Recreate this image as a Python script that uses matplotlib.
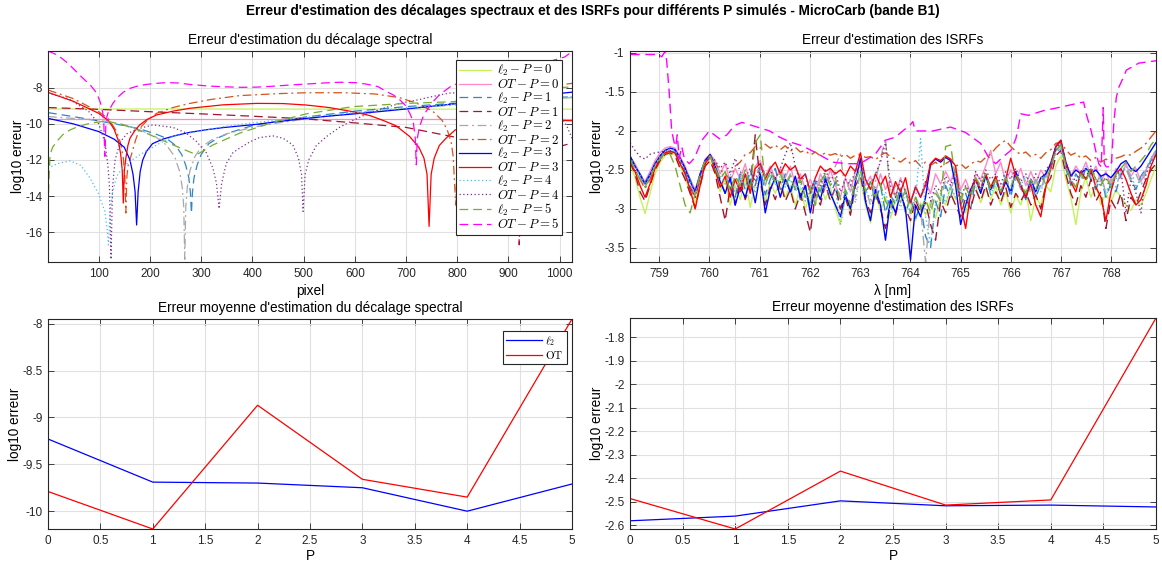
import numpy as np
import matplotlib
matplotlib.use("Agg")
import matplotlib.pyplot as plt

plt.rcParams["font.family"] = ["Liberation Sans", "DejaVu Sans"]
plt.rcParams["mathtext.fontset"] = "cm"
plt.rcParams["axes.unicode_minus"] = False

# ---------------------------------------------------------------- data
P_values = [0, 1, 2, 3, 4, 5]
series_labels = [r"$\ell_2 - P = 0$", r"$OT - P = 0$", r"$\ell_2 - P = 1$", r"$OT - P = 1$",
                 r"$\ell_2 - P = 2$", r"$OT - P = 2$", r"$\ell_2 - P = 3$", r"$OT - P = 3$",
                 r"$\ell_2 - P = 4$", r"$OT - P = 4$", r"$\ell_2 - P = 5$", r"$OT - P = 5$"]

# log10 error of the spectral shift estimate along the detector
px_l2_0 = [1, 300, 700, 1024]
shift_l2_0 = [-9.18, -9.18, -9.19, -9.19]
px_ot_0 = [1, 300, 700, 1024]
shift_ot_0 = [-9.74, -9.74, -9.74, -9.74]
px_l2_1 = [1, 50, 100, 150, 180, 210, 232, 250, 262, 270, 276, 279, 281, 283, 286, 292,
           300, 315, 335, 360, 400, 450, 505, 600, 700, 800, 900, 1024]
shift_l2_1 = [-9.38, -9.6, -9.84, -10.1, -10.28, -10.55, -10.8, -11.2, -11.7, -12.3, -13.0,
              -13.8, -14.95, -13.8, -13.0, -12.3, -11.7, -11.1, -10.75, -10.45, -10.1, -9.85,
              -9.62, -9.3, -9.05, -8.85, -8.7, -8.5]
px_ot_1 = [1, 100, 200, 300, 400, 500, 600, 700, 780, 850, 890, 905, 913, 918, 921, 924,
           930, 945, 970, 1000, 1024]
shift_ot_1 = [-9.1, -9.2, -9.33, -9.45, -9.58, -9.72, -9.95, -10.2, -10.65, -11.05, -11.6,
              -12.1, -12.8, -13.7, -16.7, -13.7, -12.8, -12.0, -11.5, -11.25, -11.07]
px_l2_2 = [1, 50, 100, 150, 180, 210, 232, 248, 258, 263, 266, 268, 270, 273, 278, 288,
           300, 320, 350, 400, 450, 500, 600, 700, 800, 900, 1024]
shift_l2_2 = [-9.6, -9.7, -9.8, -10.05, -10.34, -10.7, -11.17, -11.8, -12.64, -13.5, -14.6,
              -17.5, -14.6, -13.5, -12.6, -11.8, -11.3, -10.9, -10.55, -10.2, -9.95, -9.75,
              -9.4, -9.15, -8.95, -8.75, -8.55]
px_ot_2 = [1, 50, 100, 120, 135, 143, 148, 151, 153, 155, 158, 164, 172, 180, 195, 213, 245,
           278, 320, 375, 450, 505, 580, 640, 687, 720, 752, 770, 780, 788, 792, 797, 801,
           806, 815, 835, 870, 930, 1000, 1024]
shift_ot_2 = [-8.13, -8.6, -9.33, -9.75, -10.43, -11.1, -11.9, -12.9, -14.94, -12.9, -12.2,
              -11.7, -10.9, -10.25, -9.8, -9.42, -9.1, -8.87, -8.65, -8.44, -8.33, -8.28,
              -8.28, -8.35, -8.55, -8.85, -9.3, -9.8, -10.3, -11.0, -11.8, -14.5, -11.5,
              -10.6, -9.9, -9.2, -8.6, -8.15, -7.85, -7.76]
px_l2_3 = [1, 50, 100, 130, 150, 161, 167, 171, 174, 177, 181, 186, 193, 205, 226, 250, 278,
           310, 343, 408, 450, 505, 550, 600, 650, 700, 750, 800, 900, 1024]
shift_l2_3 = [-9.7, -10.0, -10.43, -10.85, -11.3, -12.0, -12.8, -13.75, -15.6, -13.75,
              -12.64, -12.0, -11.54, -11.1, -10.84, -10.65, -10.47, -10.33, -10.21, -10.03,
              -9.88, -9.7, -9.57, -9.45, -9.32, -9.18, -9.03, -8.88, -8.6, -8.25]
px_ot_3 = [1, 50, 100, 120, 130, 138, 143, 146, 148, 150, 153, 157, 161, 170, 180, 195, 213,
           245, 278, 343, 408, 460, 505, 550, 596, 630, 654, 680, 707, 725, 735, 741, 745,
           749, 755, 765, 778, 796, 830, 900, 960, 1024]
shift_ot_3 = [-8.26, -8.75, -9.42, -9.85, -10.3, -10.9, -11.7, -12.6, -14.39, -12.6, -11.9,
              -11.2, -10.8, -10.4, -10.06, -9.75, -9.51, -9.3, -9.14, -8.95, -8.87, -8.88,
              -8.96, -9.1, -9.33, -9.55, -9.8, -10.1, -10.7, -11.3, -11.9, -12.8, -15.68,
              -12.8, -11.9, -11.2, -10.8, -10.34, -10.0, -9.8, -9.78, -9.83]
px_l2_4 = [1, 20, 44, 65, 83, 100, 112, 116, 119, 122, 127, 135, 150, 165, 180, 213, 245,
           297, 349, 400, 450, 500, 600, 700, 800, 900, 1024]
shift_l2_4 = [-12.46, -12.2, -12.05, -12.3, -13.0, -13.9, -14.85, -15.7, -16.7, -15.0,
              -13.8, -12.9, -12.3, -12.0, -11.72, -11.17, -10.7, -10.4, -10.14, -9.95, -9.8,
              -9.65, -9.38, -9.13, -8.9, -8.7, -8.5]
px_ot_4 = [1, 40, 80, 100, 112, 118, 121, 124, 127, 132, 142, 155, 180, 206, 245, 270, 291,
           310, 323, 330, 335, 340, 349, 362, 375, 395, 414, 440, 460, 479, 490, 496, 499,
           503, 510, 525, 545, 570, 590, 620, 654, 690, 719, 750, 784, 830, 880, 940, 980,
           1005, 1015, 1024]
shift_ot_4 = [-8.3, -8.6, -9.3, -10.0, -11.0, -12.3, -13.5, -17.5, -13.5, -12.0, -11.0,
              -10.55, -10.25, -10.06, -10.2, -10.5, -10.98, -11.6, -12.46, -13.3, -14.7,
              -13.3, -12.2, -11.6, -11.35, -11.0, -10.76, -10.67, -10.8, -11.17, -11.9,
              -12.8, -14.85, -12.8, -12.0, -11.2, -10.7, -10.2, -9.9, -9.5, -9.15, -8.85,
              -8.7, -8.5, -8.3, -8.25, -8.4, -8.8, -9.3, -9.7, -10.2, -10.8]
px_l2_5 = [1, 3, 5, 10, 18, 30, 44, 60, 83, 115, 148, 193, 245, 284, 295, 323, 375, 440,
           505, 596, 700, 791, 850, 920, 980, 1024]
shift_l2_5 = [-14.6, -13.0, -11.7, -11.3, -10.98, -10.6, -10.34, -10.15, -9.97, -9.84,
              -10.06, -10.52, -11.17, -11.63, -11.65, -11.17, -10.52, -9.92, -9.45, -9.05,
              -8.87, -8.78, -8.55, -8.3, -8.05, -7.95]
px_ot_5 = [1, 20, 40, 66, 85, 96, 103, 108, 110, 112, 114, 116, 119, 127, 135, 148, 161,
           177, 193, 213, 232, 255, 278, 310, 343, 380, 408, 440, 475, 505, 540, 570, 600,
           622, 645, 661, 675, 687, 698, 707, 714, 718, 720, 722, 726, 732, 739, 752, 765,
           791, 850, 920, 980, 1010, 1024]
shift_ot_5 = [-5.97, -6.2, -6.65, -7.39, -7.9, -8.3, -8.8, -9.4, -10.0, -11.8, -10.0, -9.6,
              -9.33, -8.9, -8.59, -8.25, -8.04, -7.9, -7.82, -7.76, -7.72, -7.74, -7.82,
              -7.9, -7.95, -7.98, -7.97, -7.92, -7.85, -7.8, -7.74, -7.7, -7.72, -7.8,
              -7.94, -8.2, -8.4, -8.65, -8.96, -9.4, -9.87, -10.8, -12.27, -10.8, -10.2,
              -9.7, -9.32, -8.8, -8.4, -7.85, -7.5, -7.0, -6.55, -6.3, -6.0]

shift_px = [px_l2_0, px_ot_0, px_l2_1, px_ot_1, px_l2_2, px_ot_2,
            px_l2_3, px_ot_3, px_l2_4, px_ot_4, px_l2_5, px_ot_5]
shift_err = [shift_l2_0, shift_ot_0, shift_l2_1, shift_ot_1, shift_l2_2, shift_ot_2,
             shift_l2_3, shift_ot_3, shift_l2_4, shift_ot_4, shift_l2_5, shift_ot_5]

# log10 error of the ISRF estimate versus wavelength (common ~0.1 nm sampling)
lam_nm = np.linspace(758.42, 768.89, 106)
isrf_l2_0 = [-2.42, -2.60, -2.85, -3.06, -2.80, -2.55, -2.40, -2.32, -2.28, -2.30,
             -2.45, -2.60, -2.80, -2.92, -2.65, -2.45, -2.40, -2.50, -2.78, -2.62,
             -2.95, -2.70, -2.88, -2.62, -2.98, -2.68, -2.55, -2.90, -2.66, -2.80,
             -2.62, -2.85, -2.70, -2.95, -2.72, -3.00, -2.80, -2.95, -2.70, -2.88,
             -2.72, -3.00, -3.20, -2.85, -3.05, -2.70, -2.62, -2.95, -3.18, -2.80,
             -3.02, -2.85, -3.12, -2.90, -2.78, -3.05, -2.88, -3.15, -2.92, -3.08,
             -2.90, -3.12, -2.85, -2.95, -2.72, -2.88, -2.78, -3.05, -2.80, -2.70,
             -2.92, -2.75, -2.88, -2.70, -2.95, -2.78, -3.05, -2.82, -2.95, -2.75,
             -3.15, -2.85, -2.95, -2.70, -2.78, -2.45, -2.32, -2.62, -2.85, -3.20,
             -2.78, -2.60, -2.85, -2.70, -2.95, -2.80, -2.92, -2.75, -2.85, -2.95,
             -3.02, -2.88, -2.95, -2.80, -2.62, -2.45]
isrf_ot_0 = [-2.33, -2.42, -2.55, -2.65, -2.52, -2.38, -2.28, -2.22, -2.20, -2.22,
             -2.33, -2.45, -2.62, -2.75, -2.55, -2.36, -2.30, -2.38, -2.55, -2.42,
             -2.65, -2.48, -2.62, -2.42, -2.70, -2.45, -2.38, -2.58, -2.45, -2.62,
             -2.48, -2.60, -2.45, -2.68, -2.55, -2.75, -2.62, -2.80, -2.55, -2.68,
             -2.50, -2.70, -2.85, -2.60, -2.78, -2.52, -2.45, -2.70, -2.58, -2.80,
             -2.55, -2.75, -2.62, -2.85, -2.60, -2.78, -2.92, -2.70, -2.85, -2.65,
             -2.80, -2.55, -2.68, -2.52, -2.65, -2.48, -2.75, -2.62, -2.80, -2.55,
             -2.62, -2.45, -2.25, -2.55, -2.40, -2.65, -2.50, -2.62, -2.48, -2.70,
             -2.52, -2.68, -2.50, -2.60, -2.40, -2.20, -2.15, -2.42, -2.58, -2.45,
             -2.55, -2.40, -2.58, -2.45, -2.65, -2.52, -2.70, -2.48, -2.60, -2.42,
             -2.58, -2.48, -2.65, -2.50, -2.38, -2.28]
isrf_l2_1 = [-2.32, -2.45, -2.55, -2.66, -2.55, -2.42, -2.32, -2.25, -2.22, -2.25,
             -2.35, -2.48, -2.62, -2.78, -2.58, -2.38, -2.30, -2.48, -2.62, -2.80,
             -2.60, -2.85, -2.55, -2.75, -2.50, -2.70, -2.45, -2.82, -2.62, -2.48,
             -2.75, -2.55, -2.80, -2.62, -2.88, -2.70, -2.98, -2.65, -2.78, -2.58,
             -2.82, -2.65, -3.00, -2.78, -2.95, -2.60, -2.48, -2.82, -2.65, -2.90,
             -2.70, -3.05, -2.82, -2.95, -2.72, -3.05, -2.85, -3.12, -2.95, -3.35,
             -3.50, -2.90, -3.10, -2.70, -2.85, -2.60, -2.95, -2.80, -3.00, -2.62,
             -2.78, -2.55, -2.82, -2.62, -2.78, -2.60, -2.85, -2.55, -2.72, -2.88,
             -2.62, -2.85, -2.68, -2.55, -2.42, -2.25, -2.18, -2.48, -2.70, -2.55,
             -2.65, -2.48, -2.62, -2.75, -2.58, -2.85, -2.68, -2.78, -2.55, -2.48,
             -2.62, -2.75, -2.58, -2.48, -2.38, -2.25]
isrf_ot_1 = [-2.40, -2.55, -2.78, -2.90, -2.70, -2.50, -2.38, -2.30, -2.28, -2.32,
             -2.48, -2.62, -2.80, -2.98, -2.70, -2.45, -2.38, -2.55, -2.85, -3.15,
             -2.72, -2.95, -2.62, -2.88, -2.70, -2.05, -2.65, -2.95, -2.72, -2.88,
             -2.65, -2.90, -2.75, -3.00, -2.80, -3.05, -3.30, -2.80, -2.95, -2.68,
             -2.90, -2.72, -3.00, -2.85, -3.08, -2.70, -2.58, -2.88, -3.05, -2.78,
             -3.00, -3.25, -2.90, -3.08, -2.80, -3.00, -3.15, -2.88, -3.05, -2.92,
             -3.20, -3.40, -2.90, -3.05, -2.80, -2.95, -3.10, -2.85, -3.00, -2.75,
             -2.90, -2.70, -2.95, -2.78, -2.92, -2.72, -2.98, -2.80, -2.90, -2.78,
             -2.95, -2.82, -3.00, -2.70, -2.60, -2.32, -2.25, -2.55, -2.80, -2.95,
             -2.70, -2.85, -2.62, -2.90, -2.78, -3.25, -2.88, -3.00, -2.80, -3.15,
             -2.85, -2.95, -2.78, -2.62, -2.50, -2.42]
isrf_l2_2 = [-2.34, -2.46, -2.58, -2.70, -2.58, -2.44, -2.34, -2.27, -2.24, -2.26,
             -2.38, -2.52, -2.70, -2.82, -2.60, -2.42, -2.35, -2.45, -2.60, -2.52,
             -2.75, -2.58, -2.68, -2.50, -2.78, -2.55, -2.45, -2.70, -2.52, -2.62,
             -2.50, -2.68, -2.55, -2.72, -2.60, -2.85, -2.70, -2.92, -2.62, -2.75,
             -2.58, -2.45, -2.30, -2.80, -2.62, -2.85, -2.50, -2.72, -2.95, -2.65,
             -2.35, -2.10, -2.85, -2.70, -2.92, -2.75, -3.05, -2.85, -3.00, -3.68,
             -2.95, -2.75, -2.88, -2.62, -2.75, -2.58, -2.90, -2.72, -2.85, -2.60,
             -2.72, -2.55, -2.78, -2.62, -2.80, -2.65, -2.72, -2.58, -2.75, -2.62,
             -2.80, -2.62, -2.75, -2.55, -2.48, -2.28, -2.22, -2.45, -2.62, -2.72,
             -2.52, -2.62, -2.48, -2.68, -2.55, -2.80, -2.62, -2.72, -2.52, -2.48,
             -2.65, -2.55, -2.70, -2.52, -2.35, -2.25]
isrf_ot_2 = [-2.36, -2.50, -2.62, -2.74, -2.62, -2.46, -2.36, -2.29, -2.26, -2.28,
             -2.40, -2.52, -2.72, -2.86, -2.62, -2.42, -2.34, -2.42, -2.50, -2.55,
             -2.62, -2.45, -2.40, -2.30, -2.28, -2.20, -2.22, -2.17, -2.22, -2.18,
             -2.24, -2.19, -2.26, -2.21, -2.27, -2.25, -2.31, -2.27, -2.32, -2.28,
             -2.31, -2.29, -2.33, -2.30, -2.35, -2.31, -2.30, -2.34, -2.33, -2.37,
             -2.31, -2.28, -2.33, -2.36, -2.40, -2.35, -2.42, -2.38, -2.45, -2.40,
             -2.44, -2.40, -2.46, -2.42, -2.38, -2.45, -2.42, -2.48, -2.43, -2.38,
             -2.40, -2.34, -2.30, -2.22, -2.16, -2.12, -2.20, -2.26, -2.30, -2.27,
             -2.33, -2.30, -2.35, -2.28, -2.24, -2.16, -2.14, -2.24, -2.31, -2.28,
             -2.35, -2.32, -2.38, -2.34, -2.40, -2.36, -2.40, -2.35, -2.33, -2.30,
             -2.31, -2.26, -2.22, -2.16, -2.08, -2.00]
isrf_l2_3 = [-2.32, -2.45, -2.56, -2.68, -2.56, -2.42, -2.32, -2.25, -2.22, -2.24,
             -2.35, -2.48, -2.65, -2.78, -2.55, -2.38, -2.30, -2.45, -2.65, -2.80,
             -2.60, -2.95, -2.72, -2.85, -2.62, -2.92, -2.55, -3.05, -2.75, -2.60,
             -2.85, -2.62, -2.78, -2.58, -2.85, -2.70, -3.05, -2.72, -2.88, -2.62,
             -2.80, -2.95, -3.10, -2.82, -3.00, -2.65, -2.35, -2.90, -3.15, -2.75,
             -2.95, -3.40, -2.88, -3.05, -2.80, -3.00, -3.65, -2.95, -3.10, -2.85,
             -2.42, -2.36, -2.40, -2.34, -2.38, -2.70, -3.20, -2.95, -2.75, -2.62,
             -2.80, -2.58, -2.75, -2.60, -2.82, -2.65, -2.78, -2.52, -2.70, -2.85,
             -2.62, -2.78, -2.60, -2.55, -2.42, -2.20, -2.12, -2.40, -2.58, -2.50,
             -2.55, -2.48, -2.55, -2.50, -2.58, -2.55, -2.60, -2.52, -2.42, -2.38,
             -2.48, -2.52, -2.45, -2.35, -2.25, -2.15]
isrf_ot_3 = [-2.38, -2.52, -2.70, -2.85, -2.68, -2.48, -2.36, -2.28, -2.26, -2.28,
             -2.42, -2.55, -2.75, -3.00, -2.70, -2.42, -2.32, -2.50, -2.72, -2.58,
             -2.85, -2.62, -2.78, -2.55, -2.80, -2.48, -2.42, -2.62, -2.48, -2.40,
             -2.55, -2.42, -2.50, -2.45, -2.62, -2.55, -2.78, -2.60, -2.45, -2.52,
             -2.48, -2.55, -2.50, -2.58, -2.45, -2.52, -2.28, -2.62, -2.75, -2.55,
             -2.70, -2.58, -2.85, -2.65, -2.78, -2.60, -2.92, -2.72, -2.85, -2.70,
             -2.42, -2.35, -2.38, -2.32, -2.36, -2.45, -2.95, -3.25, -2.80, -2.62,
             -2.75, -2.55, -2.72, -2.58, -2.80, -2.62, -2.35, -2.58, -2.70, -2.85,
             -2.68, -2.95, -3.10, -2.72, -2.48, -2.20, -2.12, -2.42, -2.65, -2.78,
             -2.52, -2.62, -2.50, -2.72, -2.85, -3.15, -2.78, -2.55, -2.48, -2.62,
             -2.80, -2.95, -2.88, -2.70, -2.45, -2.30]
isrf_l2_4 = [-2.33, -2.46, -2.57, -2.69, -2.57, -2.43, -2.33, -2.26, -2.23, -2.25,
             -2.36, -2.50, -2.66, -2.80, -2.58, -2.40, -2.33, -2.42, -2.58, -2.68,
             -2.55, -2.78, -2.60, -2.72, -2.55, -2.80, -2.50, -2.68, -2.55, -2.70,
             -2.58, -2.72, -2.62, -2.78, -2.65, -2.90, -2.75, -2.62, -2.80, -2.65,
             -2.88, -2.75, -3.20, -2.85, -2.70, -2.92, -2.52, -2.75, -2.88, -2.70,
             -2.92, -2.78, -3.05, -2.85, -2.98, -2.80, -3.08, -2.90, -2.10, -3.10,
             -3.45, -2.95, -2.80, -2.92, -2.70, -2.85, -2.75, -3.00, -2.78, -2.65,
             -2.75, -2.60, -2.80, -2.68, -2.72, -2.58, -2.78, -2.62, -2.70, -2.58,
             -2.75, -2.62, -2.78, -2.58, -2.50, -2.28, -2.22, -2.45, -2.65, -2.58,
             -2.62, -2.45, -2.58, -2.72, -2.60, -2.82, -2.70, -2.62, -2.52, -2.45,
             -2.60, -2.70, -2.62, -2.48, -2.35, -2.25]
isrf_ot_4 = [-2.15, -2.25, -2.33, -2.36, -2.30, -2.28, -2.27, -2.26, -2.25, -2.28,
             -2.40, -2.55, -2.72, -2.85, -2.60, -2.40, -2.32, -2.38, -2.48, -2.40,
             -2.55, -2.35, -2.52, -2.60, -2.48, -2.65, -2.42, -2.58, -2.50, -2.62,
             -2.48, -2.30, -2.15, -2.45, -2.68, -2.55, -2.82, -2.62, -2.72, -2.50,
             -2.65, -2.52, -2.78, -2.62, -2.70, -2.50, -2.42, -2.62, -2.70, -2.55,
             -2.40, -2.15, -2.70, -2.85, -2.62, -2.78, -2.92, -2.72, -2.85, -2.65,
             -2.90, -2.70, -2.78, -2.58, -2.70, -2.52, -2.85, -2.70, -2.78, -2.52,
             -2.65, -2.50, -2.62, -2.55, -2.68, -2.52, -2.62, -2.48, -2.65, -2.55,
             -2.70, -2.55, -2.65, -2.50, -2.42, -2.22, -2.16, -2.40, -2.55, -2.65,
             -2.50, -2.60, -2.45, -2.62, -2.70, -2.60, -2.75, -2.58, -2.50, -3.05,
             -2.62, -2.80, -3.05, -2.55, -2.42, -2.30]
isrf_l2_5 = [-2.36, -2.50, -2.62, -2.72, -2.60, -2.45, -2.36, -2.28, -2.30, -2.45,
             -2.70, -2.95, -3.05, -2.80, -2.55, -2.38, -2.32, -2.48, -2.62, -2.52,
             -2.78, -2.58, -2.70, -2.50, -2.75, -2.15, -2.05, -2.68, -2.52, -2.65,
             -2.55, -2.70, -2.58, -2.75, -2.62, -2.85, -2.72, -2.95, -2.65, -2.55,
             -2.70, -2.60, -2.88, -2.75, -2.95, -2.62, -2.48, -2.78, -2.65, -2.85,
             -2.68, -2.90, -3.00, -2.80, -2.92, -2.75, -3.05, -2.85, -3.00, -2.88,
             -3.05, -2.80, -2.90, -2.20, -2.18, -2.62, -2.88, -2.72, -2.85, -2.60,
             -2.70, -2.55, -2.75, -2.62, -2.78, -2.60, -2.72, -2.55, -2.68, -2.80,
             -2.62, -2.75, -2.58, -2.68, -2.45, -2.25, -2.18, -2.45, -2.62, -2.72,
             -2.55, -2.65, -2.48, -2.62, -2.70, -2.58, -2.72, -2.55, -2.48, -2.40,
             -2.52, -2.45, -2.38, -2.30, -2.18, -2.10]
lam_ot_5 = [758.42, 758.70, 759.00, 759.05, 759.08, 759.12, 759.15, 759.20, 759.25, 759.30,
            759.33, 759.36, 759.40, 759.45, 759.50, 759.60, 759.70, 759.85, 760.00, 760.20,
            760.35, 760.50, 760.65, 760.95, 761.20, 761.40, 761.60, 761.85, 762.15, 762.45,
            762.75, 763.00, 763.30, 763.50, 763.70, 763.85, 764.00, 764.05, 764.10, 764.45,
            764.80, 765.10, 765.40, 765.55, 765.70, 765.85, 766.00, 766.10, 766.15, 766.20,
            766.35, 766.65, 766.95, 767.30, 767.45, 767.50, 767.60, 767.75, 767.80, 767.84,
            767.86, 767.90, 768.00, 768.05, 768.10, 768.15, 768.25, 768.30, 768.55, 768.89]
isrf_ot_5 = [-1.02, -1.02, -1.02, -1.05, -1.02, -0.98, -1.10, -1.50, -2.00, -2.15,
             -2.20, -2.05, -2.35, -2.20, -2.35, -2.42, -2.35, -2.12, -2.00, -2.10,
             -2.05, -1.93, -1.89, -1.95, -2.00, -2.08, -2.14, -2.19, -2.29, -2.40,
             -2.42, -2.42, -2.30, -2.12, -2.08, -2.00, -1.92, -1.88, -2.00, -2.00,
             -1.95, -2.02, -2.16, -2.33, -2.42, -2.33, -2.25, -2.10, -1.95, -1.78,
             -1.80, -1.74, -1.70, -1.65, -1.63, -1.78, -2.00, -2.42, -2.46, -1.70,
             -2.42, -2.46, -2.46, -1.90, -1.57, -1.44, -1.30, -1.22, -1.13, -1.10]

isrf_lam = [lam_nm] * 11 + [lam_ot_5]
isrf_err = [isrf_l2_0, isrf_ot_0, isrf_l2_1, isrf_ot_1, isrf_l2_2, isrf_ot_2,
            isrf_l2_3, isrf_ot_3, isrf_l2_4, isrf_ot_4, isrf_l2_5, isrf_ot_5]

# mean log10 errors per simulated P
mean_shift_l2 = [-9.23, -9.69, -9.70, -9.75, -10.00, -9.71]
mean_shift_ot = [-9.79, -10.19, -8.87, -9.66, -9.85, -7.95]
mean_isrf_l2 = [-2.582, -2.562, -2.497, -2.518, -2.515, -2.523]
mean_isrf_ot = [-2.487, -2.617, -2.370, -2.515, -2.493, -1.717]

# ---------------------------------------------------------------- styles
DASH = (0, (7, 4))
DASHDOT = (0, (7, 3, 1.5, 3))
DOT = (0, (1, 2))
series_styles = [
    ("#c5f25a", "-"), ("#ff88c8", "-"),
    ("#2f86c9", DASH), ("#a2142f", DASH),
    ("#a8a8a8", DASHDOT), ("#d95319", DASHDOT),
    ("#0000ff", "-"), ("#ff0000", "-"),
    ("#4dbeee", DOT), ("#7e2f8e", DOT),
    ("#77ac30", DASH), ("#ff00ff", DASH),
]

W, H = 1162, 565
fig = plt.figure(figsize=(W / 100, H / 100), dpi=100)
TITLE_FS = 9.8


def add_axes(left, top, right, bottom):
    return fig.add_axes([left / W, 1 - bottom / H, (right - left) / W, (bottom - top) / H])


def style(ax):
    ax.grid(True, color="#e0e0e0", lw=0.8)
    ax.set_axisbelow(True)
    for s in ax.spines.values():
        s.set_color("#262626")
        s.set_linewidth(0.8)
    ax.tick_params(direction="in", top=True, right=True, length=4, width=0.6,
                   colors="#262626", labelsize=8.5, pad=4)


def fmt(v):
    return f"{v:g}"


ax_tl = add_axes(48, 51, 572, 262)
ax_tr = add_axes(630, 51, 1156, 262)
ax_bl = add_axes(48, 319, 572, 529)
ax_br = add_axes(630, 318, 1156, 529)

# spectral shift error
for xs, ys, (c, ls), lab in zip(shift_px, shift_err, series_styles, series_labels):
    ax_tl.plot(xs, ys, color=c, ls=ls, lw=0.9, label=lab)
ax_tl.set_xlim(1, 1024)
ax_tl.set_ylim(-17.65, -5.97)
ax_tl.set_xticks(range(100, 1001, 100))
yt = [-16, -14, -12, -10, -8]
ax_tl.set_yticks(yt)
ax_tl.set_yticklabels([fmt(v) for v in yt])
ax_tl.set_title("Erreur d'estimation du décalage spectral", fontsize=TITLE_FS, pad=5)
ax_tl.set_xlabel("pixel", fontsize=TITLE_FS, labelpad=3)
ax_tl.set_ylabel("log10 erreur", fontsize=TITLE_FS, labelpad=0)
style(ax_tl)
leg = ax_tl.legend(loc="upper right", bbox_to_anchor=(0.981, 0.957), fontsize=9.2,
                   fancybox=False, edgecolor="#262626", framealpha=1, borderaxespad=0,
                   labelspacing=-0.02, handlelength=2.5, handletextpad=0.45, borderpad=0.25)
leg.get_frame().set_linewidth(0.8)

# ISRF error
for xs, ys, (c, ls) in zip(isrf_lam, isrf_err, series_styles):
    ax_tr.plot(xs, ys, color=c, ls=ls, lw=1.0)
ax_tr.set_xlim(758.42, 768.89)
ax_tr.set_ylim(-3.68, -0.975)
ax_tr.set_xticks(range(759, 769))
yt = [-3.5, -3, -2.5, -2, -1.5, -1]
ax_tr.set_yticks(yt)
ax_tr.set_yticklabels([fmt(v) for v in yt])
ax_tr.set_title("Erreur d'estimation des ISRFs", fontsize=TITLE_FS, pad=5)
ax_tr.set_xlabel("λ [nm]", fontsize=TITLE_FS, labelpad=3)
ax_tr.set_ylabel("log10 erreur", fontsize=TITLE_FS, labelpad=0)
style(ax_tr)

# mean shift error
ax_bl.plot(P_values, mean_shift_l2, color="#0000ff", lw=0.9, label=r"$\ell_2$")
ax_bl.plot(P_values, mean_shift_ot, color="#ff0000", lw=0.9, label=r"$\mathrm{OT}$")
ax_bl.set_xlim(0, 5)
ax_bl.set_ylim(min(mean_shift_ot), max(mean_shift_ot))
xt = [0, 0.5, 1, 1.5, 2, 2.5, 3, 3.5, 4, 4.5, 5]
ax_bl.set_xticks(xt)
ax_bl.set_xticklabels([fmt(v) for v in xt])
yt = [-10, -9.5, -9, -8.5, -8]
ax_bl.set_yticks(yt)
ax_bl.set_yticklabels([fmt(v) for v in yt])
ax_bl.set_title("Erreur moyenne d'estimation du décalage spectral", fontsize=TITLE_FS, pad=5)
ax_bl.set_xlabel("P", fontsize=TITLE_FS, labelpad=2)
ax_bl.set_ylabel("log10 erreur", fontsize=TITLE_FS, labelpad=0)
style(ax_bl)
leg2 = ax_bl.legend(loc="upper right", bbox_to_anchor=(0.99, 0.945), fontsize=8,
                    fancybox=False, edgecolor="#262626", framealpha=1, borderaxespad=0,
                    labelspacing=0.1, handlelength=3.2, handletextpad=0.3, borderpad=0.3)
leg2.get_frame().set_linewidth(0.8)

# mean ISRF error
ax_br.plot(P_values, mean_isrf_l2, color="#0000ff", lw=0.9)
ax_br.plot(P_values, mean_isrf_ot, color="#ff0000", lw=0.9)
ax_br.set_xlim(0, 5)
ax_br.set_ylim(min(mean_isrf_ot), max(mean_isrf_ot))
ax_br.set_xticks(xt)
ax_br.set_xticklabels([fmt(v) for v in xt])
yt = [-2.6, -2.5, -2.4, -2.3, -2.2, -2.1, -2, -1.9, -1.8]
ax_br.set_yticks(yt)
ax_br.set_yticklabels([fmt(v) for v in yt])
ax_br.set_title("Erreur moyenne d'estimation des ISRFs", fontsize=TITLE_FS, pad=5)
ax_br.set_xlabel("P", fontsize=TITLE_FS, labelpad=2)
ax_br.set_ylabel("log10 erreur", fontsize=TITLE_FS, labelpad=0)
style(ax_br)

fig.text(593 / W, 1 - 11 / H,
         "Erreur d'estimation des décalages spectraux et des ISRFs pour différents P simulés - MicroCarb (bande B1)",
         ha="center", va="center", fontsize=TITLE_FS, fontweight="bold")

fig.savefig("out.png", dpi=100, facecolor="white")
